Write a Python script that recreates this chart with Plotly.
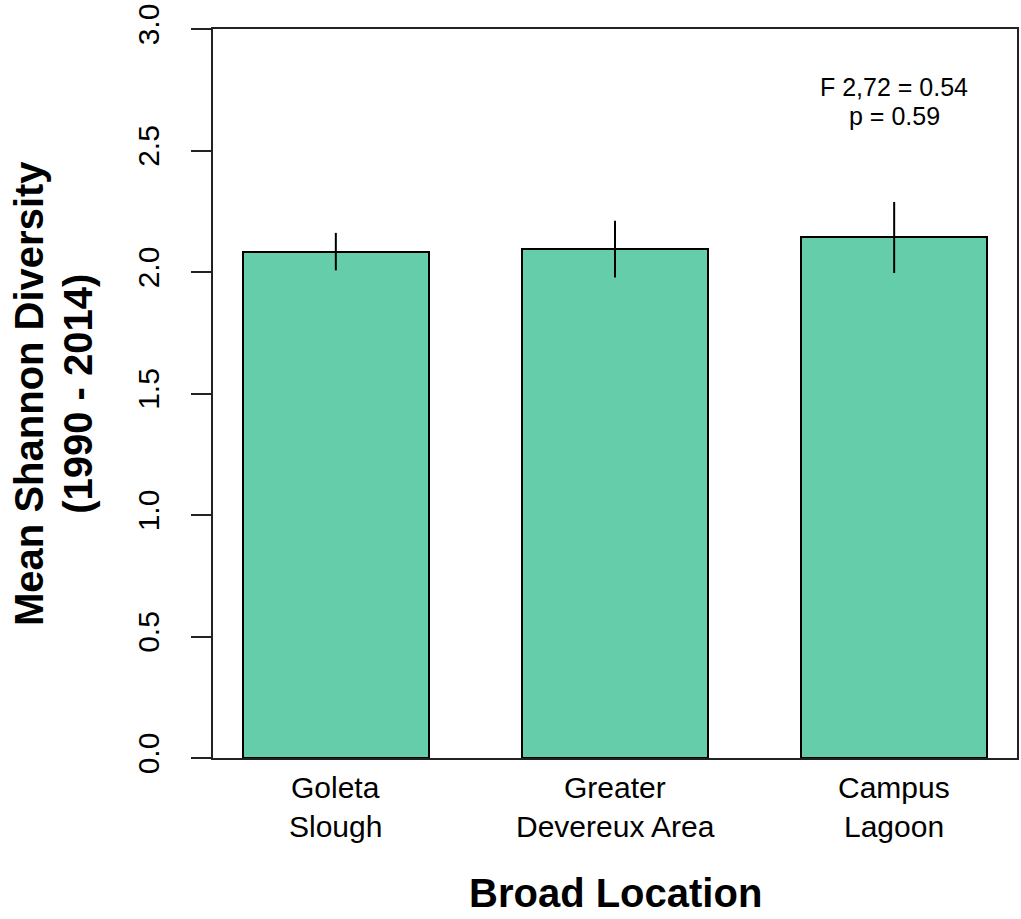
import plotly.graph_objects as go

# Mean Shannon diversity by broad location, 1990-2014
location_line1 = ["Goleta", "Greater", "Campus"]
location_line2 = ["Slough", "Devereux Area", "Lagoon"]
mean_diversity = [2.084, 2.094, 2.142]
std_error = [0.077, 0.117, 0.146]
y_ticks = [0.0, 0.5, 1.0, 1.5, 2.0, 2.5, 3.0]
y_tick_text = ["0.0", "0.5", "1.0", "1.5", "2.0", "2.5", "3.0"]
stat_lines = ["F 2,72 = 0.54", "p = 0.59"]

FONT = "Liberation Sans, Arial, sans-serif"
positions = list(range(len(location_line1)))

fig = go.Figure()
fig.add_trace(go.Bar(
    x=positions,
    y=mean_diversity,
    width=0.667,
    marker=dict(color="#66CDAA", line=dict(color="black", width=2)),
    error_y=dict(type="data", array=std_error, visible=True,
                 color="black", thickness=2, width=0),
    showlegend=False,
))

fig.update_layout(
    width=1021, height=919,
    margin=dict(l=213, r=2, t=29, b=161),
    plot_bgcolor="white", paper_bgcolor="white",
    font=dict(family=FONT, color="black"),
    bargap=0,
)

fig.update_xaxes(
    range=[-0.44, 2.44],
    showticklabels=False,
    ticks="", showgrid=False, zeroline=False,
    showline=True, linecolor="#222", linewidth=2, mirror=True,
)

fig.update_yaxes(
    range=[0, 3],
    tickvals=y_ticks, ticktext=y_tick_text,
    tickangle=-90,
    ticks="outside", ticklen=20, tickwidth=2, tickcolor="#222",
    showgrid=False, zeroline=False,
    showline=True, linecolor="#222", linewidth=2, mirror=True,
    tickfont=dict(size=30, family=FONT, color="black"),
    ticklabelstandoff=20,
)

# Two-line category labels under each bar
label_font = dict(size=30, family=FONT, color="black")
for pos, first, second in zip(positions, location_line1, location_line2):
    fig.add_annotation(text=first, xref="x", yref="paper", x=pos, y=-0.040,
                       xanchor="center", yanchor="middle", showarrow=False,
                       font=label_font)
    fig.add_annotation(text=second, xref="x", yref="paper", x=pos, y=-0.0933,
                       xanchor="center", yanchor="middle", showarrow=False,
                       font=label_font)

# Axis titles
title_font = dict(size=40, family=FONT, color="black")
fig.add_annotation(
    text="<b>Broad Location</b>", xref="paper", yref="paper",
    x=0.5, y=-0.185, xanchor="center", yanchor="middle",
    showarrow=False, font=title_font,
)
fig.add_annotation(
    text="<b>Mean Shannon Diversity</b>", xref="paper", yref="paper",
    x=(28 - 213) / 806, y=0.5, xanchor="center", yanchor="middle",
    textangle=-90, showarrow=False, font=title_font,
)
fig.add_annotation(
    text="<b>(1990 - 2014)</b>", xref="paper", yref="paper",
    x=(77 - 213) / 806, y=0.5, xanchor="center", yanchor="middle",
    textangle=-90, showarrow=False, font=title_font,
)

# ANOVA result
stat_font = dict(size=25, family=FONT, color="black")
for text, y_val in zip(stat_lines, [2.76, 2.64]):
    fig.add_annotation(
        text=text, xref="x", yref="y",
        x=2, y=y_val, xanchor="center", yanchor="middle",
        showarrow=False, font=stat_font,
    )

fig.write_html("out.html")
